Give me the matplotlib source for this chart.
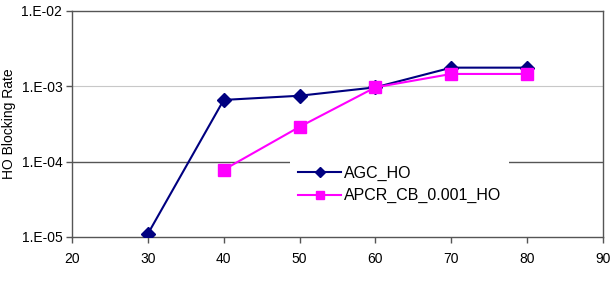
import matplotlib.pyplot as plt
from matplotlib.ticker import FixedLocator, FixedFormatter

plt.rcParams['font.family'] = ['Liberation Sans', 'DejaVu Sans']

# Data
load = [30, 40, 50, 60, 70, 80]
agc_ho = [1.1e-5, 6.6e-4, 7.5e-4, 9.7e-4, 1.77e-3, 1.77e-3]
apcr_x = [40, 50, 60, 70, 80]
apcr_ho = [7.8e-5, 2.9e-4, 9.7e-4, 1.46e-3, 1.46e-3]

y_ticks = [1e-5, 1e-4, 1e-3, 1e-2]
y_labels = ['1.E-05', '1.E-04', '1.E-03', '1.E-02']
x_ticks = [20, 30, 40, 50, 60, 70, 80, 90]

fig = plt.figure(figsize=(6.14, 2.92), dpi=100)
ax = fig.add_axes([72 / 614, 1 - 237 / 292, (603 - 72) / 614, (237 - 11) / 292])

ax.set_yscale('log')
ax.set_xlim(20, 90)
ax.set_ylim(1e-5, 1e-2)

# horizontal grid lines (the 1.E-04 one is darker in the original)
ax.axhline(1e-3, color='#c8c8c8', lw=0.8, zorder=0)
ax.axhline(1e-4, color='#555555', lw=1.0, zorder=0)

ax.plot(load, agc_ho, color='#000080', lw=1.5, marker='D', markersize=7,
        label='AGC_HO', zorder=3)
ax.plot(apcr_x, apcr_ho, color='#ff00ff', lw=1.5, marker='s', markersize=8,
        label='APCR_CB_0.001_HO', zorder=4)

ax.yaxis.set_major_locator(FixedLocator(y_ticks))
ax.yaxis.set_major_formatter(FixedFormatter(y_labels))
ax.yaxis.set_minor_locator(FixedLocator([]))
ax.set_xticks(x_ticks)
ax.tick_params(axis='both', direction='out', length=4, width=1,
               color='#555555', labelsize=10)
ax.tick_params(axis='x', pad=7)
ax.tick_params(axis='y', pad=3)

for side in ['left', 'bottom', 'top', 'right']:
    ax.spines[side].set_color('#555555')
    ax.spines[side].set_linewidth(1.0)

ax.set_ylabel('HO Blocking Rate', fontsize=10, labelpad=4)

leg = ax.legend(loc='upper left', bbox_to_anchor=((290 - 72) / 531, (237 - 158) / 226),
                frameon=True, fancybox=False, fontsize=11.5, handlelength=2.7,
                markerscale=0.8, borderpad=0.5, labelspacing=0.45,
                handletextpad=0.15, borderaxespad=0)
leg.get_frame().set_edgecolor('none')
leg.get_frame().set_facecolor('white')
leg.get_frame().set_alpha(1.0)

fig.savefig('out.png', dpi=100)
